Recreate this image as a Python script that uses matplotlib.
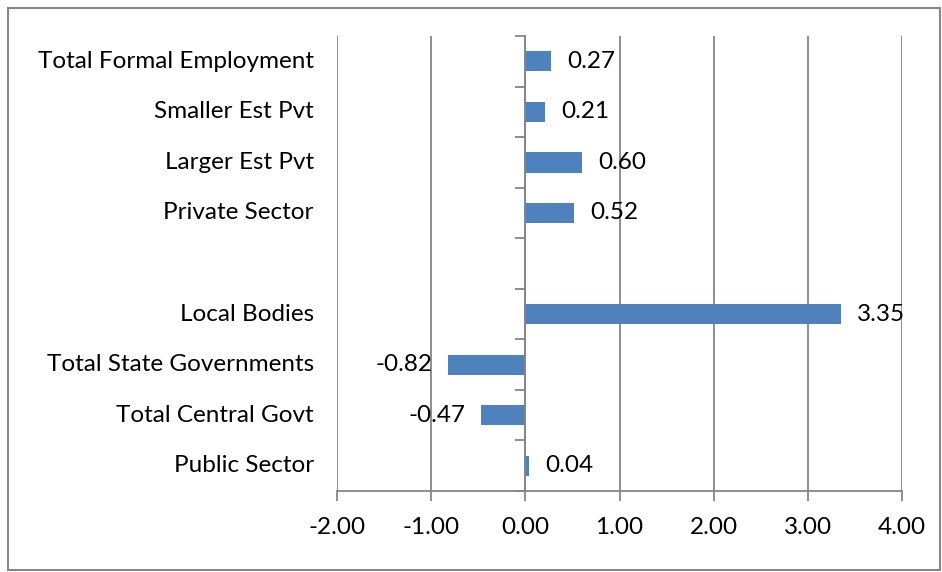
import numpy as np
import matplotlib

matplotlib.use("Agg")
import matplotlib.pyplot as plt
from matplotlib.patches import Rectangle
import matplotlib.transforms as mtransforms

# bottom-to-top; the blank slot is the gap between public and private groups
categories = [
    "Public Sector",
    "Total Central Govt",
    "Total State Governments",
    "Local Bodies",
    "",
    "Private Sector",
    "Larger Est Pvt",
    "Smaller Est Pvt",
    "Total Formal Employment",
]
values = [0.04, -0.47, -0.82, 3.35, np.nan, 0.52, 0.60, 0.21, 0.27]
x_ticks = [-2, -1, 0, 1, 2, 3, 4]

plt.rcParams["font.family"] = ["Lato", "DejaVu Sans"]
GRID = "#868686"
BAR = "#4F81BD"
FS = 17.5

fig = plt.figure(figsize=(9.42, 5.72), dpi=100)
ax = fig.add_axes([0.3577, 0.1416, 0.6, 0.7954])

y = np.arange(len(categories))
ax.barh(y, values, height=0.4, color=BAR, zorder=3)

ax.set_xlim(-2, 4)
ax.set_ylim(-0.5, len(categories) - 0.5)
ax.set_xticks(x_ticks)
ax.set_xticklabels([f"{v:.2f}" for v in x_ticks], fontsize=FS)
ax.tick_params(axis="x", length=7, color=GRID, width=1.3, pad=12)
ax.grid(axis="x", color=GRID, linewidth=1.3, zorder=0)

for side in ["top", "right"]:
    ax.spines[side].set_visible(False)
ax.spines["bottom"].set_color(GRID)
ax.spines["bottom"].set_linewidth(1.3)
ax.spines["left"].set_position(("data", 0))
ax.spines["left"].set_color(GRID)
ax.spines["left"].set_linewidth(1.3)
ax.spines["left"].set_zorder(4)

ax.set_yticks(np.arange(-0.5, len(categories)), minor=True)
ax.set_yticks([])
ax.tick_params(axis="y", which="minor", length=7, color=GRID, width=1.3,
               direction="out", labelleft=False)

trans = mtransforms.blended_transform_factory(ax.transAxes, ax.transData)
for yi, name in zip(y, categories):
    ax.text(-0.041, yi, name, transform=trans, ha="right", va="center", fontsize=FS)

for yi, v in zip(y, values):
    if np.isnan(v):
        continue
    if v >= 0:
        ax.text(v + 0.17, yi, f"{v:.2f}", ha="left", va="center", fontsize=FS, zorder=5)
    else:
        ax.text(v - 0.17, yi, f"{v:.2f}", ha="right", va="center", fontsize=FS, zorder=5)

fig.patches.append(Rectangle((8 / 942, 2 / 572), 932 / 942, 562 / 572,
                             transform=fig.transFigure, fill=False,
                             edgecolor=GRID, linewidth=1.5))

fig.savefig("out.png", dpi=100)
